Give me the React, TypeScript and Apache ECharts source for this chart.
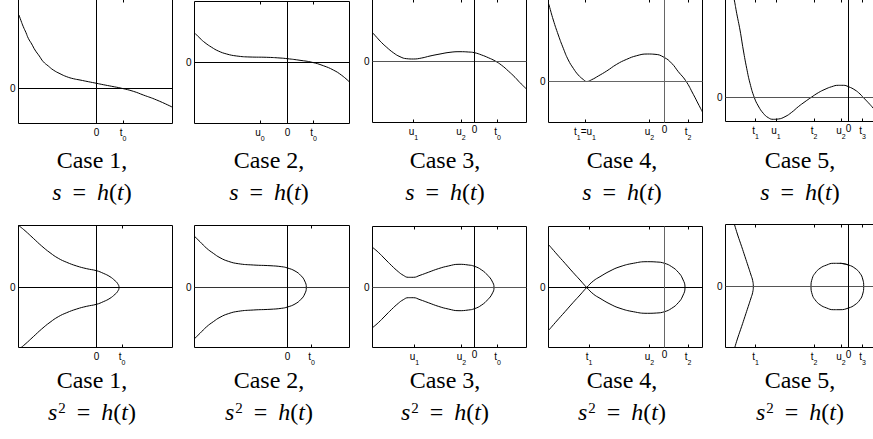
import React, { useEffect, useRef } from 'react';
import * as echarts from 'echarts';

// ---------------- Data ----------------
// t runs along the horizontal axis (0 at the vertical line), values on the vertical axis.
// Top row: s = h(t)
const case1H = [[-7.75, 7.35], [-7.55, 6.78], [-7.32, 6.18], [-7.05, 5.58], [-6.82, 5.02], [-6.48, 4.45], [-6.15, 3.85], [-5.72, 3.25], [-5.32, 2.68], [-4.82, 2.25], [-4.32, 1.85], [-3.65, 1.48], [-2.98, 1.18], [-2.32, 0.98], [-1.65, 0.85], [-0.82, 0.68], [0, 0.52], [0.68, 0.38], [1.52, 0.22], [2.52, 0.02], [3.68, -0.28], [4.68, -0.65], [6.02, -1.15], [7.62, -1.88]];
const case2H = [[-9.25, 2.92], [-8.75, 2.42], [-8.25, 1.98], [-7.58, 1.52], [-6.92, 1.15], [-6.08, 0.85], [-5.08, 0.65], [-3.75, 0.55], [-2.08, 0.52], [-0.75, 0.45], [0, 0.38], [1.25, 0.22], [2.45, 0.02], [3.58, -0.32], [4.58, -0.75], [5.42, -1.28], [6.2, -1.95]];
const case3H = [[-10.28, 2.98], [-9.78, 2.42], [-9.28, 1.88], [-8.78, 1.42], [-8.12, 0.88], [-7.45, 0.48], [-6.78, 0.28], [-6.12, 0.25], [-5.28, 0.35], [-4.45, 0.55], [-3.45, 0.75], [-2.45, 0.92], [-1.45, 0.98], [-0.62, 0.95], [0, 0.88], [0.72, 0.65], [1.38, 0.38], [2.05, 0.06], [2.72, -0.38], [3.38, -0.95], [4.05, -1.58], [4.55, -2.12], [5.2, -2.75]];
const case4H = [[-11.6, 7.8], [-11.55, 7.65], [-11.12, 6.15], [-10.62, 4.65], [-10.12, 3.32], [-9.62, 2.15], [-9.12, 1.32], [-8.62, 0.65], [-8.12, 0.2], [-7.78, 0], [-7.28, 0.18], [-6.62, 0.55], [-5.78, 1.05], [-4.78, 1.72], [-3.78, 2.22], [-2.78, 2.58], [-1.72, 2.75], [-0.95, 2.72], [-0.05, 2.42], [0.72, 1.82], [1.38, 0.98], [2.12, 0.08], [2.88, -1.28], [3.38, -2.25], [3.8, -3.05]];
const case5H = [[-11.6, 10.6], [-11.42, 9.75], [-11.18, 8.42], [-10.85, 6.75], [-10.52, 4.75], [-10.18, 2.92], [-9.85, 1.42], [-9.42, 0], [-9.02, -0.85], [-8.52, -1.58], [-8.02, -2.02], [-7.52, -2.18], [-7.02, -2.15], [-6.35, -1.92], [-5.68, -1.48], [-5.02, -0.92], [-4.35, -0.42], [-3.75, 0], [-3.02, 0.48], [-2.35, 0.82], [-1.68, 1.08], [-1.02, 1.22], [-0.52, 1.22], [0, 1.08], [0.65, 0.75], [1.15, 0.35], [1.48, 0], [1.98, -0.52], [2.48, -1.08], [3.1, -1.85]];

// Bottom row: s^2 = h(t), upper branches s = +sqrt(h)
const case1S = [[-7.85, 6.25], [-7.15, 5.68], [-6.32, 4.92], [-5.48, 4.15], [-4.65, 3.48], [-3.82, 2.92], [-2.98, 2.52], [-1.98, 2.15], [-0.98, 1.88], [0, 1.68], [0.68, 1.42], [1.35, 1.08], [1.85, 0.68], [2.12, 0.38], [2.25, 0]];
const case2S = [[-9.3, 5.12], [-8.75, 4.58], [-8.08, 3.92], [-7.42, 3.42], [-6.75, 2.98], [-5.92, 2.62], [-4.92, 2.38], [-3.42, 2.25], [-1.75, 2.18], [-0.58, 2.08], [0, 1.95], [0.75, 1.65], [1.35, 1.18], [1.72, 0.65], [1.88, 0]];
const case3S = [[-10.28, 4.08], [-9.62, 3.52], [-8.95, 2.85], [-8.28, 2.18], [-7.62, 1.58], [-7.12, 1.22], [-6.62, 1.02], [-6.12, 1.02], [-5.45, 1.22], [-4.62, 1.52], [-3.62, 1.88], [-2.62, 2.15], [-1.55, 2.32], [-0.62, 2.25], [0, 2.12], [0.72, 1.75], [1.32, 1.22], [1.75, 0.65], [1.95, 0]];
const case4Arm = [[-11.6, 4.3], [-10.78, 3.35], [-9.95, 2.42], [-9.12, 1.48], [-8.45, 0.75], [-7.78, 0]];
const case4Loop = [[-7.12, 0.65], [-6.45, 1.08], [-5.45, 1.65], [-4.45, 2.08], [-3.12, 2.42], [-1.72, 2.58], [-0.78, 2.55], [0, 2.42], [0.72, 2.08], [1.38, 1.52], [1.82, 0.85], [2.05, 0]];
const case5Arm = [[-11.7, 7.2], [-11.42, 6.25], [-11.08, 5.15], [-10.68, 3.98], [-10.35, 2.98], [-10.02, 1.98], [-9.75, 1.15], [-9.58, 0.58], [-9.52, 0]];
const case5Oval = [[-3.75, 0], [-3.62, 0.82], [-3.35, 1.32], [-2.85, 1.82], [-2.18, 2.15], [-1.52, 2.32], [-0.85, 2.32], [0, 2.15], [0.65, 1.82], [1.15, 1.32], [1.42, 0.75], [1.52, 0]];

// Tick values and labels ("_" marks a subscript)
const ticks1H = [0, 2.65];
const labels1H = ['0', 't_0'];
const ticks2H = [-2.75, 0, 2.6];
const labels2H = ['u_0', '0', 't_0'];
const ticks3H = [-6.1, -1.35, 0, 2.3];
const labels3H = ['u_1', 'u_2', '0', 't_0'];
const ticks4H = [-7.95, -1.5, 0, 2.35];
const labels4H = ['t_1=u_1', 'u_2', '0', 't_2'];
const ticks5H = [-9.3, -7.25, -3.45, -0.75, 0, 1.4];
const labels5H = ['t_1', 'u_1', 't_2', 'u_2', '0', 't_3'];
const ticks1S = [0, 2.55];
const labels1S = ['0', 't_0'];
const ticks2S = [0, 2.4];
const labels2S = ['0', 't_0'];
const ticks3S = [-6.0, -1.3, 0, 2.3];
const labels3S = ['u_1', 'u_2', '0', 't_0'];
const ticks4S = [-7.55, -1.5, 0, 2.35];
const labels4S = ['t_1', 'u_2', '0', 't_2'];
const ticks5S = [-9.3, -3.45, -0.75, 0, 1.4];
const labels5S = ['t_1', 't_2', 'u_2', '0', 't_3'];

// Axis ranges of each panel
const xRanges = [[-7.8, 7.6], [-9.3, 6.2], [-10.2, 5.2], [-11.6, 3.8], [-12.3, 3.1], [-7.8, 7.6], [-9.3, 6.2], [-10.2, 5.2], [-11.6, 3.8], [-12.3, 3.1]];
const yRanges = [[-3.5, 8.9], [-6.1, 6.1], [-6.1, 6.2], [-4.1, 8.2], [-2.4, 9.8], [-6.0, 6.2], [-6.0, 6.2], [-6.0, 6.1], [-6.0, 6.1], [-6.1, 6.2]];

const caseNames = ['Case 1,', 'Case 2,', 'Case 3,', 'Case 4,', 'Case 5,'];

// ---------------- Layout / style ----------------
const FRAMES = [
  { left: 18.5, top: -0.5, width: 154, height: 124 },
  { left: 194.5, top: 1.5, width: 155, height: 122 },
  { left: 372.5, top: -0.5, width: 154, height: 123 },
  { left: 548.5, top: -0.5, width: 154, height: 123 },
  { left: 725.5, top: -0.5, width: 154, height: 122 },
  { left: 18.5, top: 225.5, width: 154, height: 122 },
  { left: 194.5, top: 225.5, width: 155, height: 122 },
  { left: 372.5, top: 226.5, width: 154, height: 121 },
  { left: 548.5, top: 226.5, width: 154, height: 121 },
  { left: 725.5, top: 224.5, width: 154, height: 123 },
];
// panels whose "0" tick label sits a little higher than the letter labels
const RAISED_ZERO = [false, false, true, true, true, false, false, true, true, true];
const H_COLORS = ['#000', '#000', '#555', '#666', '#555', '#000', '#333', '#555', '#000', '#555'];
const V_COLORS = ['#000', '#000', '#000', '#666', '#000', '#000', '#000', '#000', '#666', '#000'];
const CAPTION_X = [92, 269, 445, 622, 800];
const CAPTION_TOP = [[148, 180], [368, 400]];

const SERIF = 'Liberation Serif';
const SANS = 'Liberation Sans';

const neg = (p: number[]) => [p[0], -p[1]];
const mirrorClose = (u: number[][]) => [...u, ...u.slice(0, -1).reverse().map(neg)];

function toRich(label: string, raised: boolean) {
  if (raised && label === '0') return '{z|0}';
  return label
    .split(/(_\d)/)
    .filter((s) => s.length > 0)
    .map((s) => (s.startsWith('_') ? `{b|${s.slice(1)}}` : `{a|${s}}`))
    .join('');
}

export default function App() {
  const ref = useRef<HTMLDivElement>(null);

  useEffect(() => {
    if (!ref.current) return;
    const chart = echarts.init(ref.current, undefined, { renderer: 'svg' });

    const ovalTop = 6;
    const curves: number[][][][] = [
      [case1H],
      [case2H],
      [case3H],
      [case4H],
      [case5H],
      [mirrorClose(case1S)],
      [mirrorClose(case2S)],
      [mirrorClose(case3S)],
      [[
        ...case4Arm.map(neg),
        ...case4Loop,
        ...case4Loop.slice(0, -1).reverse().map(neg),
        ...case4Arm.slice().reverse(),
      ]],
      [
        mirrorClose(case5Arm),
        [
          ...case5Oval.slice(ovalTop),
          ...case5Oval.slice(0, -1).reverse().map(neg),
          ...case5Oval.slice(1, ovalTop + 2),
        ],
      ],
    ];
    const ticks = [ticks1H, ticks2H, ticks3H, ticks4H, ticks5H, ticks1S, ticks2S, ticks3S, ticks4S, ticks5S];
    const labels = [labels1H, labels2H, labels3H, labels4H, labels5H, labels1S, labels2S, labels3S, labels4S, labels5S];

    const richPlain = {
      a: { fontFamily: SANS, fontSize: 10, lineHeight: 10, verticalAlign: 'top', color: '#000' },
      b: { fontFamily: SANS, fontSize: 7, lineHeight: 7, padding: [7, 0, 0, 0], verticalAlign: 'top', color: '#000' },
    };
    const richRaised = {
      a: { fontFamily: SANS, fontSize: 10, lineHeight: 10, padding: [2, 0, 0, 0], verticalAlign: 'top', color: '#000' },
      b: { fontFamily: SANS, fontSize: 7, lineHeight: 7, padding: [9, 0, 0, 0], verticalAlign: 'top', color: '#000' },
      z: { fontFamily: SANS, fontSize: 10, lineHeight: 10, verticalAlign: 'top', color: '#000' },
    };

    const grid: any[] = [];
    const xAxis: any[] = [];
    const yAxis: any[] = [];
    const series: any[] = [];

    FRAMES.forEach((f, i) => {
      grid.push({
        left: f.left,
        top: f.top,
        width: f.width,
        height: f.height,
        show: true,
        borderColor: '#000',
        borderWidth: 1,
        backgroundColor: 'transparent',
        containLabel: false,
        outerBoundsMode: 'none',
      });
      const tk = ticks[i];
      const lb = labels[i];
      const raised = RAISED_ZERO[i];
      xAxis.push({
        type: 'value',
        gridIndex: i,
        min: xRanges[i][0],
        max: xRanges[i][1],
        position: 'bottom',
        axisLine: { show: false, onZero: false },
        splitLine: { show: false },
        axisTick: { show: true, inside: true, length: 3, customValues: tk, lineStyle: { color: '#000', width: 1 } },
        axisLabel: {
          show: true,
          customValues: tk,
          margin: raised ? 2 : 4,
          rich: raised ? richRaised : richPlain,
          formatter: (v: number) => {
            const k = tk.findIndex((t) => Math.abs(t - v) < 1e-6);
            return k >= 0 ? toRich(lb[k], raised) : '';
          },
        },
      });
      xAxis.push({
        type: 'value',
        gridIndex: i,
        min: xRanges[i][0],
        max: xRanges[i][1],
        position: 'top',
        axisLine: { show: false, onZero: false },
        splitLine: { show: false },
        axisTick: { show: true, inside: true, length: 3, customValues: tk, lineStyle: { color: '#000', width: 1 } },
        axisLabel: { show: false },
      });
      yAxis.push({
        type: 'value',
        gridIndex: i,
        min: yRanges[i][0],
        max: yRanges[i][1],
        axisLine: { show: false, onZero: false },
        splitLine: { show: false },
        axisTick: { show: false },
        axisLabel: {
          show: true,
          customValues: [0],
          margin: 3,
          fontFamily: SANS,
          fontSize: 10,
          color: '#000',
          formatter: () => '0',
        },
      });
      curves[i].forEach((pts, j) => {
        series.push({
          type: 'line',
          xAxisIndex: 2 * i,
          yAxisIndex: i,
          data: pts,
          smooth: 0.5,
          symbol: 'none',
          showSymbol: false,
          clip: true,
          silent: true,
          lineStyle: { color: '#000', width: 1 },
          z: 3,
          markLine:
            j === 0
              ? {
                  silent: true,
                  symbol: ['none', 'none'],
                  label: { show: false },
                  animation: false,
                  lineStyle: { type: 'solid', width: 1 },
                  data: [
                    { yAxis: 0, lineStyle: { color: H_COLORS[i], type: 'solid', width: 1 } },
                    { xAxis: 0, lineStyle: { color: V_COLORS[i], type: 'solid', width: 1 } },
                  ],
                }
              : undefined,
        });
      });
    });

    const capRich = {
      r: { fontFamily: SERIF, fontSize: 24, lineHeight: 24, fontWeight: 'normal', fontStyle: 'normal', color: '#000' },
      i: { fontFamily: SERIF, fontSize: 24, lineHeight: 24, fontWeight: 'normal', fontStyle: 'italic', color: '#000' },
      e: { fontFamily: SERIF, fontSize: 24, lineHeight: 24, fontWeight: 'normal', fontStyle: 'normal', padding: [0, 11, 0, 11], color: '#000' },
      p: { fontFamily: SERIF, fontSize: 15, lineHeight: 15, fontWeight: 'normal', fontStyle: 'normal', verticalAlign: 'top', padding: [0, 0, 0, 1], color: '#000' },
    };
    const title: any[] = [];
    [0, 1].forEach((row) => {
      CAPTION_X.forEach((cx, k) => {
        const lines = [
          `{r|${caseNames[k]}}`,
          row === 0 ? '{i|s}{e|=}{i|h}{r|(}{i|t}{r|)}' : '{i|s}{p|2}{e|=}{i|h}{r|(}{i|t}{r|)}',
        ];
        lines.forEach((txt, li) => {
          title.push({
            text: txt,
            left: cx,
            top: CAPTION_TOP[row][li],
            padding: 0,
            itemGap: 0,
            textAlign: 'center',
            textVerticalAlign: 'top',
            textStyle: {
              fontFamily: SERIF,
              fontSize: 24,
              fontWeight: 'normal',
              color: '#000',
              lineHeight: 24,
              rich: capRich,
            },
          });
        });
      });
    });

    chart.setOption({
      animation: false,
      backgroundColor: '#fff',
      title,
      grid,
      xAxis,
      yAxis,
      series,
    });

    return () => {
      chart.dispose();
    };
  }, []);

  return (
    <div
      ref={ref}
      style={{ position: 'absolute', left: 0, top: 0, width: 873, height: 439, background: '#fff' }}
    />
  );
}
